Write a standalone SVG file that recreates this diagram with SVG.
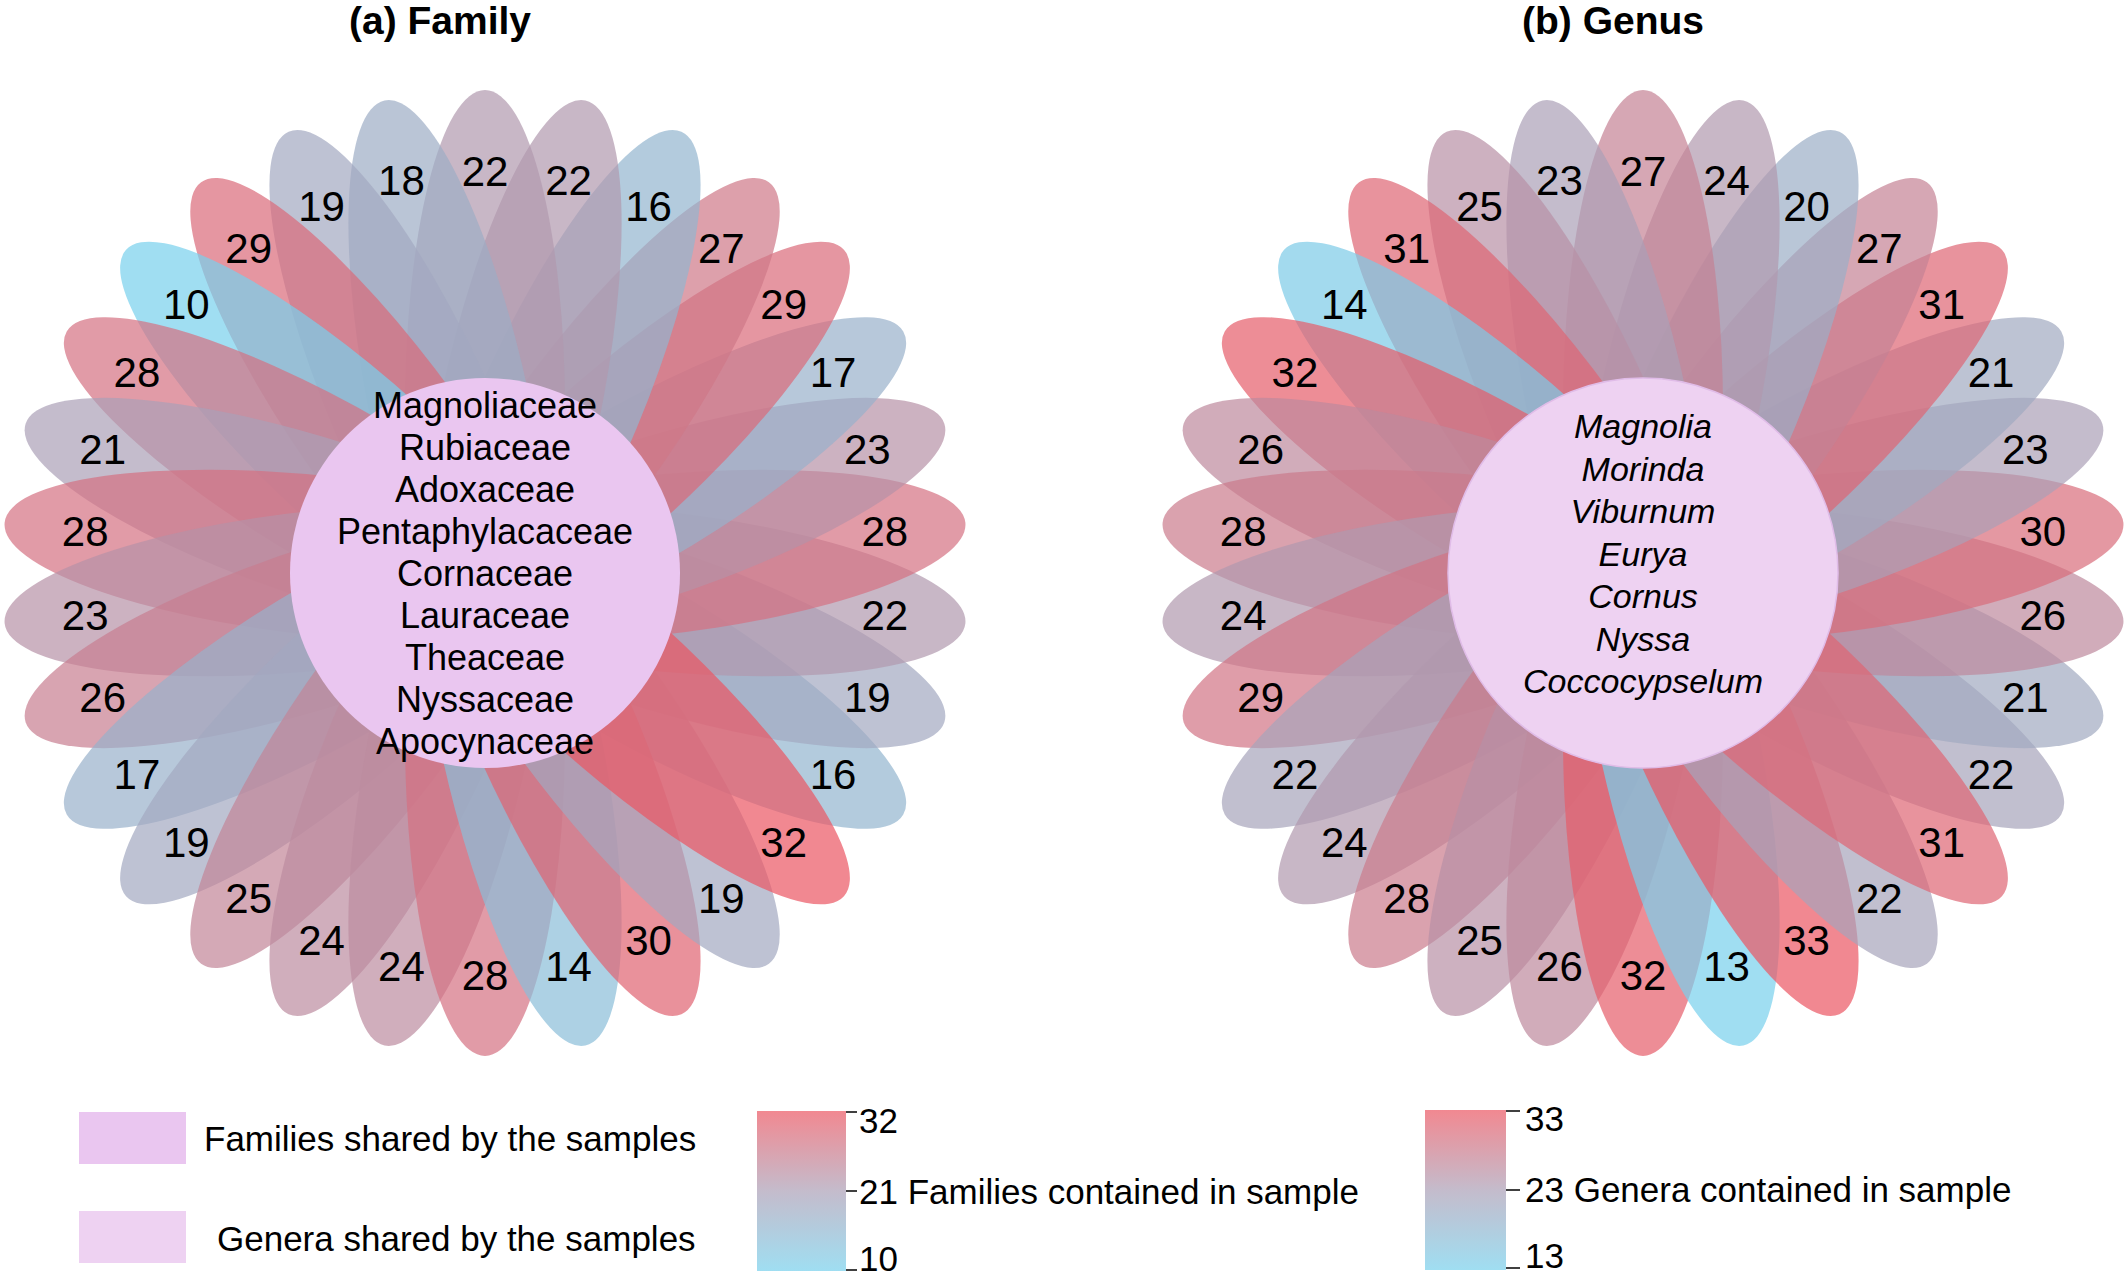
<svg xmlns="http://www.w3.org/2000/svg" width="2128" height="1275" viewBox="0 0 2128 1275">
<style>
text{font-family:"Liberation Sans",Arial,sans-serif;fill:#000}
.title{font-size:39px;font-weight:bold;text-anchor:middle}
.num{font-size:42px;text-anchor:middle}
.ctr{font-size:36px;text-anchor:middle}
.ctri{font-size:34px;text-anchor:middle;font-style:italic}
.leg{font-size:35px}
.petal{fill-opacity:0.7}
.tick{stroke:#000;stroke-width:1.5}
</style>
<defs>
<ellipse id="p" cx="163" cy="0" rx="320" ry="80"/>
<linearGradient id="cb" x1="0" y1="0" x2="0" y2="1">
<stop offset="0" stop-color="rgb(235,86,98)"/>
<stop offset="0.5" stop-color="rgb(171,159,182)"/>
<stop offset="1" stop-color="rgb(119,208,236)"/>
</linearGradient>
</defs>
<rect width="2128" height="1275" fill="#fff"/>
<text class="title" x="440" y="34">(a) Family</text>
<text class="title" x="1613" y="34">(b) Genus</text>

<g id="flower-family" transform="translate(485,573)">
<g id="petals-family" class="petal">
<use href="#p" transform="rotate(-330)" fill="rgb(147,181,207)"/>
<use href="#p" transform="rotate(-342)" fill="rgb(162,168,192)"/>
<use href="#p" transform="rotate(-354)" fill="rgb(177,152,174)"/>
<use href="#p" transform="rotate(-6)" fill="rgb(212,113,129)"/>
<use href="#p" transform="rotate(-18)" fill="rgb(183,146,167)"/>
<use href="#p" transform="rotate(-30)" fill="rgb(152,177,202)"/>
<use href="#p" transform="rotate(-42)" fill="rgb(218,106,121)"/>
<use href="#p" transform="rotate(-54)" fill="rgb(206,119,136)"/>
<use href="#p" transform="rotate(-66)" fill="rgb(147,181,207)"/>
<use href="#p" transform="rotate(-78)" fill="rgb(177,152,174)"/>
<use href="#p" transform="rotate(-90)" fill="rgb(177,152,174)"/>
<use href="#p" transform="rotate(-102)" fill="rgb(157,172,197)"/>
<use href="#p" transform="rotate(-114)" fill="rgb(162,168,192)"/>
<use href="#p" transform="rotate(-126)" fill="rgb(218,106,121)"/>
<use href="#p" transform="rotate(-138)" fill="rgb(119,208,236)"/>
<use href="#p" transform="rotate(-150)" fill="rgb(212,113,129)"/>
<use href="#p" transform="rotate(-162)" fill="rgb(171,159,182)"/>
<use href="#p" transform="rotate(-174)" fill="rgb(212,113,129)"/>
<use href="#p" transform="rotate(-186)" fill="rgb(183,146,167)"/>
<use href="#p" transform="rotate(-198)" fill="rgb(200,126,144)"/>
<use href="#p" transform="rotate(-210)" fill="rgb(152,177,202)"/>
<use href="#p" transform="rotate(-222)" fill="rgb(162,168,192)"/>
<use href="#p" transform="rotate(-234)" fill="rgb(194,132,151)"/>
<use href="#p" transform="rotate(-246)" fill="rgb(188,139,159)"/>
<use href="#p" transform="rotate(-258)" fill="rgb(188,139,159)"/>
<use href="#p" transform="rotate(-270)" fill="rgb(212,113,129)"/>
<use href="#p" transform="rotate(-282)" fill="rgb(138,190,216)"/>
<use href="#p" transform="rotate(-294)" fill="rgb(223,99,113)"/>
<use href="#p" transform="rotate(-306)" fill="rgb(162,168,192)"/>
<use href="#p" transform="rotate(-318)" fill="rgb(235,86,98)"/>
</g>
<g id="core-family">
<circle cx="0" cy="0" r="195" fill="#eac6f0"/>
<text class="ctr" x="0" y="-155.5">Magnoliaceae</text>
<text class="ctr" x="0" y="-113.4">Rubiaceae</text>
<text class="ctr" x="0" y="-71.3">Adoxaceae</text>
<text class="ctr" x="0" y="-29.2">Pentaphylacaceae</text>
<text class="ctr" x="0" y="12.9">Cornaceae</text>
<text class="ctr" x="0" y="55">Lauraceae</text>
<text class="ctr" x="0" y="97.1">Theaceae</text>
<text class="ctr" x="0" y="139.2">Nyssaceae</text>
<text class="ctr" x="0" y="181.3">Apocynaceae</text>
</g>
<g id="labels-family" class="num">
<text x="0" y="-387">22</text>
<text x="-83.6" y="-378.2">18</text>
<text x="-163.5" y="-352.2">19</text>
<text x="-236.3" y="-310.2">29</text>
<text x="-298.7" y="-254">10</text>
<text x="-348.1" y="-186">28</text>
<text x="-382.3" y="-109.2">21</text>
<text x="-399.8" y="-27">28</text>
<text x="-399.8" y="57">23</text>
<text x="-382.3" y="139.2">26</text>
<text x="-348.1" y="216">17</text>
<text x="-298.7" y="284">19</text>
<text x="-236.3" y="340.2">25</text>
<text x="-163.5" y="382.2">24</text>
<text x="-83.6" y="408.2">24</text>
<text x="0" y="417">28</text>
<text x="83.6" y="408.2">14</text>
<text x="163.5" y="382.2">30</text>
<text x="236.3" y="340.2">19</text>
<text x="298.7" y="284">32</text>
<text x="348.1" y="216">16</text>
<text x="382.3" y="139.2">19</text>
<text x="399.8" y="57">22</text>
<text x="399.8" y="-27">28</text>
<text x="382.3" y="-109.2">23</text>
<text x="348.1" y="-186">17</text>
<text x="298.7" y="-254">29</text>
<text x="236.3" y="-310.2">27</text>
<text x="163.5" y="-352.2">16</text>
<text x="83.6" y="-378.2">22</text>
</g>
</g>

<g id="flower-genus" transform="translate(1643,573)">
<g id="petals-genus" class="petal">
<use href="#p" transform="rotate(-330)" fill="rgb(166,164,187)"/>
<use href="#p" transform="rotate(-342)" fill="rgb(161,169,193)"/>
<use href="#p" transform="rotate(-354)" fill="rgb(190,137,157)"/>
<use href="#p" transform="rotate(-6)" fill="rgb(216,108,123)"/>
<use href="#p" transform="rotate(-18)" fill="rgb(171,159,182)"/>
<use href="#p" transform="rotate(-30)" fill="rgb(161,169,193)"/>
<use href="#p" transform="rotate(-42)" fill="rgb(222,101,115)"/>
<use href="#p" transform="rotate(-54)" fill="rgb(197,130,148)"/>
<use href="#p" transform="rotate(-66)" fill="rgb(155,174,198)"/>
<use href="#p" transform="rotate(-78)" fill="rgb(177,152,174)"/>
<use href="#p" transform="rotate(-90)" fill="rgb(197,130,148)"/>
<use href="#p" transform="rotate(-102)" fill="rgb(171,159,182)"/>
<use href="#p" transform="rotate(-114)" fill="rgb(184,144,165)"/>
<use href="#p" transform="rotate(-126)" fill="rgb(222,101,115)"/>
<use href="#p" transform="rotate(-138)" fill="rgb(124,203,231)"/>
<use href="#p" transform="rotate(-150)" fill="rgb(229,93,106)"/>
<use href="#p" transform="rotate(-162)" fill="rgb(190,137,157)"/>
<use href="#p" transform="rotate(-174)" fill="rgb(203,123,140)"/>
<use href="#p" transform="rotate(-186)" fill="rgb(177,152,174)"/>
<use href="#p" transform="rotate(-198)" fill="rgb(209,115,132)"/>
<use href="#p" transform="rotate(-210)" fill="rgb(166,164,187)"/>
<use href="#p" transform="rotate(-222)" fill="rgb(177,152,174)"/>
<use href="#p" transform="rotate(-234)" fill="rgb(203,123,140)"/>
<use href="#p" transform="rotate(-246)" fill="rgb(184,144,165)"/>
<use href="#p" transform="rotate(-258)" fill="rgb(190,137,157)"/>
<use href="#p" transform="rotate(-270)" fill="rgb(229,93,106)"/>
<use href="#p" transform="rotate(-282)" fill="rgb(119,208,236)"/>
<use href="#p" transform="rotate(-294)" fill="rgb(235,86,98)"/>
<use href="#p" transform="rotate(-306)" fill="rgb(166,164,187)"/>
<use href="#p" transform="rotate(-318)" fill="rgb(222,101,115)"/>
</g>
<g id="core-genus">
<circle cx="0" cy="0" r="195" fill="#eed2f2" stroke="#e0bce8" stroke-width="1.5"/>
<text class="ctri" x="0" y="-134.7">Magnolia</text>
<text class="ctri" x="0" y="-92.2">Morinda</text>
<text class="ctri" x="0" y="-49.7">Viburnum</text>
<text class="ctri" x="0" y="-7.2">Eurya</text>
<text class="ctri" x="0" y="35.3">Cornus</text>
<text class="ctri" x="0" y="77.8">Nyssa</text>
<text class="ctri" x="0" y="120.3">Coccocypselum</text>
</g>
<g id="labels-genus" class="num">
<text x="0" y="-387">27</text>
<text x="-83.6" y="-378.2">23</text>
<text x="-163.5" y="-352.2">25</text>
<text x="-236.3" y="-310.2">31</text>
<text x="-298.7" y="-254">14</text>
<text x="-348.1" y="-186">32</text>
<text x="-382.3" y="-109.2">26</text>
<text x="-399.8" y="-27">28</text>
<text x="-399.8" y="57">24</text>
<text x="-382.3" y="139.2">29</text>
<text x="-348.1" y="216">22</text>
<text x="-298.7" y="284">24</text>
<text x="-236.3" y="340.2">28</text>
<text x="-163.5" y="382.2">25</text>
<text x="-83.6" y="408.2">26</text>
<text x="0" y="417">32</text>
<text x="83.6" y="408.2">13</text>
<text x="163.5" y="382.2">33</text>
<text x="236.3" y="340.2">22</text>
<text x="298.7" y="284">31</text>
<text x="348.1" y="216">22</text>
<text x="382.3" y="139.2">21</text>
<text x="399.8" y="57">26</text>
<text x="399.8" y="-27">30</text>
<text x="382.3" y="-109.2">23</text>
<text x="348.1" y="-186">21</text>
<text x="298.7" y="-254">31</text>
<text x="236.3" y="-310.2">27</text>
<text x="163.5" y="-352.2">20</text>
<text x="83.6" y="-378.2">24</text>
</g>
</g>

<g id="legend-shared">
<rect x="79" y="1112" width="107" height="52" fill="#eac6f0"/>
<text class="leg" x="204" y="1151">Families shared by the samples</text>
<rect x="79" y="1211" width="107" height="52" fill="#eed2f2"/>
<text class="leg" x="217" y="1251">Genera shared by the samples</text>
</g>

<g id="colorbar-family">
<rect x="757" y="1111" width="89" height="160" fill="url(#cb)" fill-opacity="0.7"/>
<line class="tick" x1="846" y1="1112" x2="857" y2="1112"/>
<line class="tick" x1="846" y1="1191" x2="857" y2="1191"/>
<line class="tick" x1="846" y1="1270" x2="857" y2="1270"/>
<text class="leg" x="859" y="1133">32</text>
<text class="leg" x="859" y="1204">21 Families contained in sample</text>
<text class="leg" x="859" y="1271">10</text>
</g>

<g id="colorbar-genus">
<rect x="1425" y="1110" width="81" height="160" fill="url(#cb)" fill-opacity="0.7"/>
<line class="tick" x1="1506" y1="1111" x2="1520" y2="1111"/>
<line class="tick" x1="1506" y1="1190" x2="1520" y2="1190"/>
<line class="tick" x1="1506" y1="1268" x2="1520" y2="1268"/>
<text class="leg" x="1525" y="1131">33</text>
<text class="leg" x="1525" y="1202">23 Genera contained in sample</text>
<text class="leg" x="1525" y="1268">13</text>
</g>
</svg>
